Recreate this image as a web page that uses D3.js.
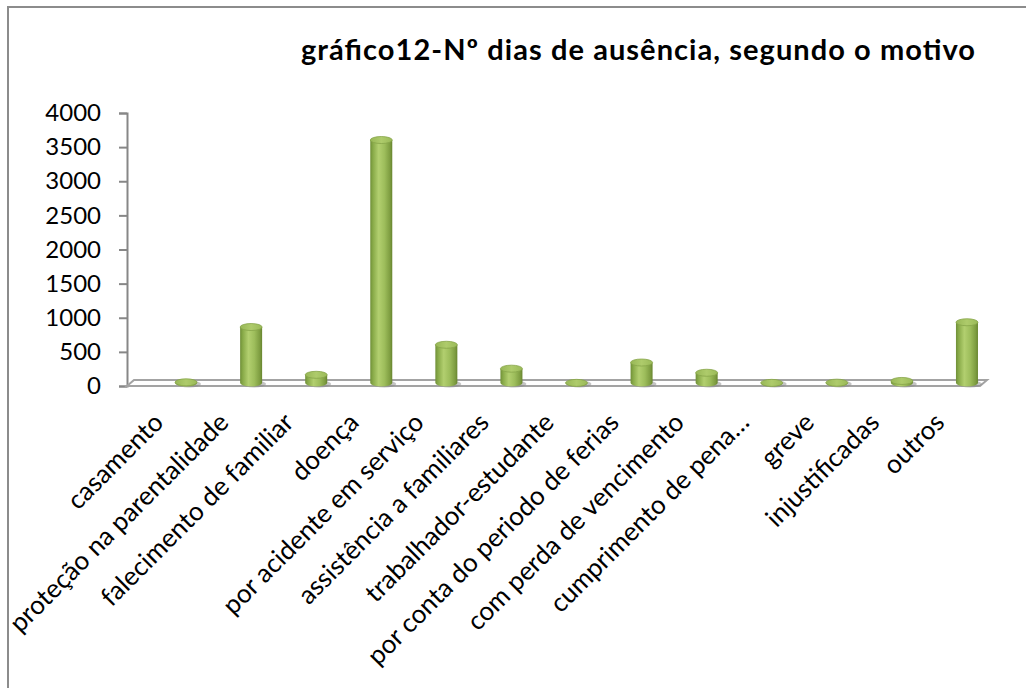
<!DOCTYPE html>
<html>
<head>
<meta charset="utf-8">
<script src="https://cdn.jsdelivr.net/npm/d3@7"></script>
<style>
  body { margin: 0; background: #fff; }
  svg { display: block; }
</style>
</head>
<body>
<div id="grafico"></div>
<script>
// dados
var motivos = ["casamento", "proteção na parentalidade", "falecimento de familiar", "doença",
  "por acidente em serviço", "assistência a familiares", "trabalhador-estudante",
  "por conta do periodo de ferias", "com perda de vencimento", "cumprimento de pena…",
  "greve", "injustificadas", "outros"];
var dias = [10, 820, 120, 3560, 560, 210, 2, 300, 150, 2, 5, 30, 890];
var ticksY = [0, 500, 1000, 1500, 2000, 2500, 3000, 3500, 4000];

var W = 1026, H = 688;
var fonte = "Lato, 'Open Sans', sans-serif";

var svg = d3.select("#grafico")
  .append("svg")
    .attr("width", W)
    .attr("height", H);

// moldura
svg.append("rect")
  .attr("x", 8).attr("y", 7)
  .attr("width", W + 10).attr("height", H + 10)
  .attr("fill", "#fff")
  .attr("stroke", "#8c8c8c")
  .attr("stroke-width", 2);

// titulo
svg.append("text")
  .attr("x", 301)
  .attr("y", 60)
  .attr("textLength", 674)
  .attr("lengthAdjust", "spacing")
  .style("font-family", fonte)
  .style("font-weight", "bold")
  .style("font-size", "29px")
  .text("gráfico12-Nº dias de ausência, segundo o motivo");

// escalas
var y = d3.scaleLinear().domain([0, 4000]).range([386, 113]);
var x = d3.scaleBand().domain(motivos).range([153.5, 999.5]);

// eixo Y
var eixoY = svg.append("g")
  .attr("transform", "translate(127,0)")
  .call(d3.axisLeft(y).tickValues(ticksY).tickFormat(d3.format("d")).tickSize(8).tickPadding(18));
eixoY.select(".domain").attr("stroke", "#878787").attr("stroke-width", 2);
eixoY.selectAll(".tick line").attr("stroke", "#878787").attr("stroke-width", 2);
eixoY.selectAll(".tick text")
  .style("font-family", fonte)
  .style("font-size", "24px")
  .attr("fill", "#000");

// chao 3D
svg.append("polygon")
  .attr("points", [[127, 386], [980, 386], [987, 380], [134, 380]].map(function (p) { return p.join(","); }).join(" "))
  .attr("fill", "#fff")
  .attr("stroke", "#a3a3a3")
  .attr("stroke-width", 2);

// gradientes
var defs = svg.append("defs");
var grad = defs.append("linearGradient").attr("id", "cil").attr("x1", "0").attr("x2", "1");
[["0%", "#6f8f38"], ["12%", "#88aa48"], ["38%", "#b2cf6f"], ["65%", "#9dbd5b"], ["90%", "#7d9c40"], ["100%", "#67852f"]]
  .forEach(function (s) { grad.append("stop").attr("offset", s[0]).attr("stop-color", s[1]); });
var gradTopo = defs.append("linearGradient").attr("id", "topo").attr("x1", "0").attr("x2", "1");
[["0%", "#97b756"], ["50%", "#aecb6b"], ["100%", "#9aba58"]]
  .forEach(function (s) { gradTopo.append("stop").attr("offset", s[0]).attr("stop-color", s[1]); });

var base = y(0) - 3;
var rx = 11, ry = 3.5;

var cil = svg.append("g").selectAll("g")
  .data(motivos)
  .enter()
  .append("g");

function cx(d) { return x(d) + x.bandwidth() / 2; }
function topo(i) { return base - (y(0) - y(dias[i])); }

// sombra
cil.append("ellipse")
  .attr("cx", function (d) { return cx(d) + 3; })
  .attr("cy", base + 1)
  .attr("rx", rx + 1).attr("ry", ry)
  .attr("fill", "#8a8a8a").attr("opacity", 0.5);

cil.append("path")
  .attr("d", function (d, i) {
    var c = cx(d), t = topo(i);
    return "M" + (c - rx) + "," + t +
      "L" + (c - rx) + "," + base +
      "A" + rx + "," + ry + " 0 0 0 " + (c + rx) + "," + base +
      "L" + (c + rx) + "," + t + "Z";
  })
  .attr("fill", "url(#cil)");

cil.append("ellipse")
  .attr("cx", cx)
  .attr("cy", function (d, i) { return topo(i); })
  .attr("rx", rx).attr("ry", ry)
  .attr("fill", "url(#topo)")
  .attr("stroke", "#86a549")
  .attr("stroke-width", 0.8);

// rotulos do eixo X
svg.append("g").selectAll("text")
  .data(motivos)
  .enter()
  .append("text")
    .attr("transform", function (d) { return "translate(" + (cx(d) - 21) + ",424) rotate(-45)"; })
    .attr("text-anchor", "end")
    .style("font-family", fonte)
    .style("font-size", "26px")
    .text(function (d) { return d; });
</script>
</body>
</html>
